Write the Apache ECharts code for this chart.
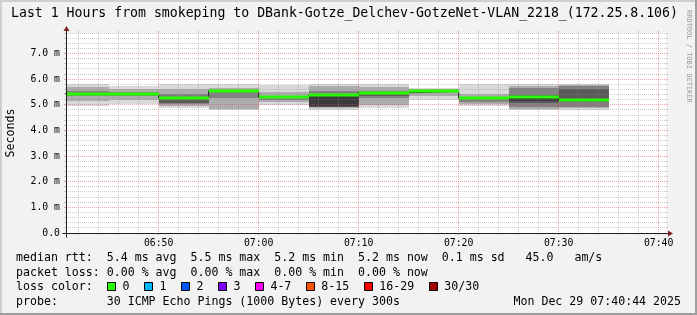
<!DOCTYPE html>
<html><head><meta charset="utf-8">
<script src="https://cdn.jsdelivr.net/npm/echarts@6/dist/echarts.min.js"></script>
<style>html,body{margin:0;padding:0;background:#f2f2f2;overflow:hidden}#c{width:697px;height:315px}</style>
</head><body><div id="c"></div>
<script>
// ---------------- data ----------------
const titleText = 'Last 1 Hours from smokeping to DBank-Gotze_Delchev-GotzeNet-VLAN_2218_(172.25.8.106)';
const viewStartTime = '06:40:44';
const viewMinutes = 60;
const bucketMinutes = 5;
const bucketStart = ['06:40','06:45','06:50','06:55','07:00','07:05','07:10','07:15','07:20','07:25','07:30'];
const medianRtt = [5.44, 5.42, 5.25, 5.54, 5.30, 5.38, 5.47, 5.52, 5.25, 5.30, 5.18];
// nested smoke bands (ms), outermost first
const smoke1 = [[4.94,5.81],[5.03,5.74],[4.88,5.81],[4.78,5.81],[4.98,5.78],[4.78,5.81],[4.88,5.81],[5.20,5.66],[4.94,5.81],[4.78,5.81],[4.78,5.81]];
const smoke2 = [[5.13,5.70],[5.20,5.62],[4.97,5.62],[4.84,5.66],[5.10,5.50],[4.86,5.72],[5.00,5.70],[5.36,5.60],[5.02,5.42],[4.84,5.74],[4.86,5.78]];
const smoke3 = [[5.33,5.52],[5.34,5.49],[5.03,5.42],[5.25,5.52],[5.20,5.36],[4.90,5.55],[5.28,5.55],null,[5.10,5.30],[4.90,5.66],[4.92,5.72]];
const smoke4 = [null,null,[5.06,5.32],null,null,[4.93,5.38],[5.36,5.44],null,null,[5.06,5.40],[5.10,5.62]];
const smoke5 = [null,null,null,null,null,[4.96,5.33],null,null,null,[5.14,5.30],null];
const xTickLabels = ['06:50','07:00','07:10','07:20','07:30','07:40'];
const yTickValues = [0,1,2,3,4,5,6,7];
const yTickLabels = ['0.0','1.0 m','2.0 m','3.0 m','4.0 m','5.0 m','6.0 m','7.0 m'];
const yMax = 7.8;
const yAxisName = 'Seconds';
const statsLines = [
  'median rtt:  5.4 ms avg  5.5 ms max  5.2 ms min  5.2 ms now  0.1 ms sd   45.0   am/s',
  'packet loss: 0.00 % avg  0.00 % max  0.00 % min  0.00 % now'
];
const lossTitle = 'loss color:';
const lossLabels = ['0','1','2','3','4-7','8-15','16-29','30/30'];
const lossColors = ['#26ff00','#00b8ff','#0059ff','#7e00ff','#ff00ff','#ff5500','#ff0000','#a10000'];
const probeLine = 'probe:       30 ICMP Echo Pings (1000 Bytes) every 300s';
const dateText = 'Mon Dec 29 07:40:44 2025';
const watermark = 'RRDTOOL / TOBI OETIKER';

// ---------------- helpers ----------------
const MONO = '"DejaVu Sans Mono", monospace';
function toMin(s){const p=s.split(':').map(Number);return p[0]*60+p[1]+(p[2]||0)/60;}
const viewStart = toMin(viewStartTime);
const viewEnd = viewStart + viewMinutes;
const xTickValues = xTickLabels.map(toMin);
const MINOR_GRID = 'rgba(143,143,143,0.45)';
const MAJOR_GRID = 'rgba(222,79,79,0.5)';
const AXIS = '#1f1f1f';
const ARROW = '#801f1f';

const gridData = [];
for (let m = Math.ceil(viewStart/2)*2; m <= viewEnd; m += 2) gridData.push([m, 0, m % 10 === 0 ? 1 : 0]);
for (let k = 1; k <= Math.round(yMax*5); k++) { const v = k/5; gridData.push([viewStart, v, k % 5 === 0 ? 3 : 2]); }

function bandSeries(band, alpha) {
  const data = [];
  band.forEach((b, i) => { if (b) data.push([toMin(bucketStart[i]), b[0], b[1]]); });
  return {
    type: 'custom', z: 1, silent: true, data,
    encode: {x: 0, y: [1, 2]},
    renderItem(params, api) {
      const cs = params.coordSys;
      const t = api.value(0);
      const a = api.coord([t, api.value(2)]);
      const b = api.coord([t + bucketMinutes, api.value(1)]);
      const x1 = Math.max(Math.round(a[0]), cs.x), x2 = Math.min(Math.round(b[0]), cs.x + cs.width);
      const y1 = Math.round(a[1]), y2 = Math.round(b[1]);
      if (x2 <= x1) return null;
      return {type: 'rect', shape: {x: x1, y: y1, width: x2 - x1, height: y2 - y1}, style: {fill: 'rgba(0,0,0,' + alpha + ')'}};
    }
  };
}

const stepData = medianRtt.map((v, i) => [toMin(bucketStart[i]), v]);
stepData.push([toMin(bucketStart[bucketStart.length-1]) + bucketMinutes, medianRtt[medianRtt.length-1]]);

// legend graphics
const graphics = [];
graphics.push({type:'rect', shape:{x:0,y:0,width:697,height:2}, style:{fill:'#cfcfcf'}, silent:true});
graphics.push({type:'rect', shape:{x:0,y:0,width:2,height:315}, style:{fill:'#cfcfcf'}, silent:true});
graphics.push({type:'rect', shape:{x:695,y:0,width:2,height:315}, style:{fill:'#9e9e9e'}, silent:true});
graphics.push({type:'rect', shape:{x:0,y:313,width:697,height:2}, style:{fill:'#9e9e9e'}, silent:true});
graphics.push({type:'text', x:11, y:14, style:{text:titleText, fontFamily:MONO, fontSize:13.2, fill:'#000', verticalAlign:'middle'}});
graphics.push({type:'text', x:689, y:10, rotation:-Math.PI/2, style:{text:watermark, fontFamily:MONO, fontSize:7, fill:'#9a9a9a', verticalAlign:'middle', align:'left'}});
graphics.push({type:'text', x:11, y:133, rotation:Math.PI/2, style:{text:yAxisName, fontFamily:MONO, fontSize:11.6, fill:'#000', verticalAlign:'middle', align:'center'}});
const CW = 11.6*0.602, LX = 16;
const rowY = [258, 272.5, 287, 301.5];
statsLines.forEach((t, i) => graphics.push({type:'text', x:LX, y:rowY[i], style:{text:t, fontFamily:MONO, fontSize:11.6, fill:'#000', verticalAlign:'middle'}}));
graphics.push({type:'text', x:LX, y:rowY[2], style:{text:lossTitle, fontFamily:MONO, fontSize:11.6, fill:'#000', verticalAlign:'middle'}});
let cx = LX + 13*CW + 0.5;
lossLabels.forEach((lab, i) => {
  graphics.push({type:'rect', shape:{x:Math.round(cx)+0.5, y:rowY[2]-4.5, width:8, height:8}, style:{fill:lossColors[i], stroke:'#000', lineWidth:1}});
  graphics.push({type:'text', x:cx+15.2, y:rowY[2], style:{text:lab, fontFamily:MONO, fontSize:11.6, fill:'#000', verticalAlign:'middle'}});
  cx += 15.2 + lab.length*CW + 14.8;
});
graphics.push({type:'text', x:LX, y:rowY[3], style:{text:probeLine, fontFamily:MONO, fontSize:11.6, fill:'#000', verticalAlign:'middle'}});
graphics.push({type:'text', x:681, y:rowY[3], style:{text:dateText, fontFamily:MONO, fontSize:11.6, fill:'#000', verticalAlign:'middle', align:'right'}});

const chart = echarts.init(document.getElementById('c'), null, {renderer:'canvas'});
chart.setOption({
  animation: false,
  backgroundColor: '#f2f2f2',
  grid: {left: 66, right: 31, top: 33, bottom: 82, show: true, backgroundColor: '#ffffff', borderWidth: 0},
  xAxis: {type:'value', min:viewStart, max:viewEnd, axisLine:{show:false}, axisTick:{show:false}, splitLine:{show:false},
    axisLabel:{customValues:xTickValues, formatter:v => {const i = xTickValues.findIndex(t => Math.abs(t - v) < 1e-6); return i >= 0 ? xTickLabels[i] : '';},
      fontFamily:MONO, fontSize:9.8, color:'#000', margin:5}},
  yAxis: {type:'value', min:0, max:yMax, axisLine:{show:false}, axisTick:{show:false}, splitLine:{show:false},
    axisLabel:{customValues:yTickValues, formatter:v => {const i = yTickValues.indexOf(Math.round(v)); return i >= 0 ? yTickLabels[i] : '';},
      fontFamily:MONO, fontSize:9.8, color:'#000', margin:6}},
  series: [
    bandSeries(smoke1, 0.15), bandSeries(smoke2, 0.2), bandSeries(smoke3, 0.25), bandSeries(smoke4, 0.3), bandSeries(smoke5, 0.35),
    {type:'custom', z:2, silent:true, clip:false, data:gridData, encode:{x:0, y:1},
      renderItem(params, api) {
        const cs = params.coordSys; const kind = api.value(2);
        const p = api.coord([api.value(0), api.value(1)]);
        const color = (kind % 2 === 1) ? MAJOR_GRID : MINOR_GRID;
        if (kind < 2) {
          const x = Math.floor(p[0]) + 0.5, top = cs.y, bot = cs.y + cs.height;
          return {type:'group', children:[
            {type:'line', shape:{x1:x,y1:top,x2:x,y2:bot}, style:{stroke:color, lineWidth:1, lineDash:[1,1]}},
            {type:'line', shape:{x1:x,y1:top-2,x2:x,y2:top}, style:{stroke:color, lineWidth:1}},
            {type:'line', shape:{x1:x,y1:bot,x2:x,y2:bot+2}, style:{stroke:color, lineWidth:1}}]};
        }
        const y = Math.floor(p[1]) + 0.5, l = cs.x, r = cs.x + cs.width;
        return {type:'group', children:[
          {type:'line', shape:{x1:l,y1:y,x2:r,y2:y}, style:{stroke:color, lineWidth:1, lineDash:[1,1]}},
          {type:'line', shape:{x1:l-2,y1:y,x2:l,y2:y}, style:{stroke:color, lineWidth:1}},
          {type:'line', shape:{x1:r,y1:y,x2:r+2,y2:y}, style:{stroke:color, lineWidth:1}}]};
      }},
    {type:'line', z:3, silent:true, data:stepData, step:'end', symbol:'none', lineStyle:{color:'#202020', width:1}},
    {type:'custom', z:4, silent:true, data:medianRtt.map((v,i) => [toMin(bucketStart[i]), v]), encode:{x:0, y:1},
      renderItem(params, api) {
        const cs = params.coordSys;
        const a = api.coord([api.value(0), api.value(1)]);
        const b = api.coord([api.value(0) + bucketMinutes, api.value(1)]);
        const x1 = Math.max(Math.round(a[0]), cs.x), x2 = Math.round(b[0]);
        const y = Math.round(a[1]);
        return {type:'line', shape:{x1, y1:y, x2, y2:y}, style:{stroke:lossColors[0], lineWidth:3}};
      }},
    {type:'custom', z:5, silent:true, clip:false, data:[[viewStart, 0]], encode:{x:0, y:1},
      renderItem(params, api) {
        const cs = params.coordSys;
        const o = api.coord([viewStart, 0]);
        const x0 = Math.floor(o[0]) + 0.5, y0 = Math.floor(o[1]) + 0.5;
        const x1 = cs.x + cs.width, y1 = cs.y;
        return {type:'group', children:[
          {type:'line', shape:{x1:x0-4,y1:y0,x2:x1+4,y2:y0}, style:{stroke:AXIS, lineWidth:1}},
          {type:'line', shape:{x1:x0,y1:y0+4,x2:x0,y2:y1-4}, style:{stroke:AXIS, lineWidth:1}},
          {type:'polygon', shape:{points:[[x1+2,y0-3],[x1+2,y0+3],[x1+7,y0]]}, style:{fill:ARROW}},
          {type:'polygon', shape:{points:[[x0-3,y1-2],[x0+3,y1-2],[x0,y1-7]]}, style:{fill:ARROW}}]};
      }}
  ],
  graphic: graphics
});
</script></body></html>
